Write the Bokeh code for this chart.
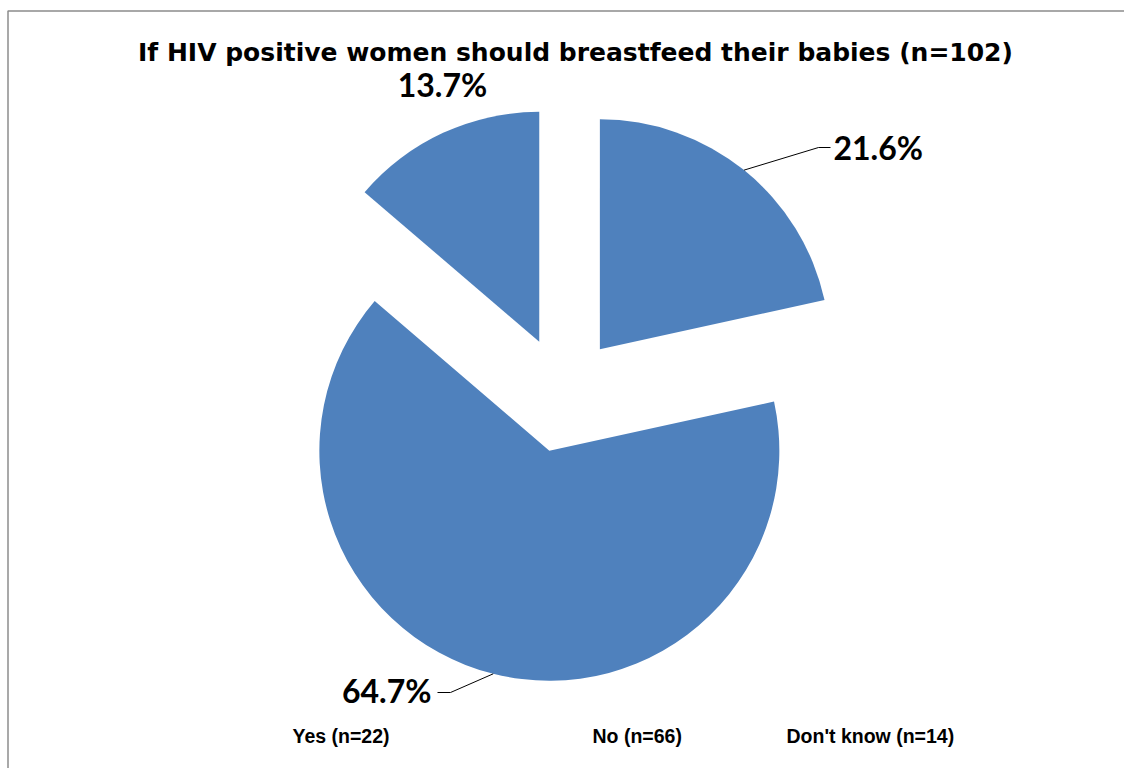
import math
from bokeh.plotting import figure
from bokeh.models import Range1d, ColumnDataSource
from bokeh.core.properties import value
from bokeh.embed import file_html
from bokeh.resources import INLINE

# ---- data ----
categories = ["Yes (n=22)", "No (n=66)", "Don't know (n=14)"]
counts = [22, 66, 14]
title_text = "If HIV positive women should breastfeed their babies (n=102)"

# ---- layout (reference pixel coords; y measured downward from top) ----
W, H = 1124, 768
def Y(img_y):
    return H - img_y

CX, CY = 563, 394          # pie centre
R = 230                    # radius in px
EXPLODE = 58               # explosion offset in px
PIE_COLOR = "#4F81BD"

total = sum(counts)
pcts = [c / total * 100 for c in counts]

p = figure(width=W, height=H, output_backend="svg", toolbar_location=None,
           x_range=Range1d(0, W), y_range=Range1d(0, H),
           min_border=0, background_fill_color="white", border_fill_color="white")
p.axis.visible = False
p.grid.visible = False
p.outline_line_color = None

# border (left/top visible in the reference)
p.line(x=[7.5, 7.5, W], y=[Y(H), Y(10.5), Y(10.5)], line_color="#8C8C8C", line_width=1.5)

# wedges: clockwise from 12 o'clock
xs, ys, starts, ends, mids = [], [], [], [], []
acc = 0.0
for c in counts:
    a1 = acc / total * 360.0
    acc += c
    a2 = acc / total * 360.0
    mid = math.radians((a1 + a2) / 2)
    xs.append(CX + EXPLODE * math.sin(mid))
    ys.append(Y(CY) + EXPLODE * math.cos(mid))
    starts.append(math.radians(90 - a2))
    ends.append(math.radians(90 - a1))
    mids.append(mid)

src = ColumnDataSource(dict(x=xs, y=ys, start=starts, end=ends, cat=categories))
p.wedge(x="x", y="y", radius=R, start_angle="start", end_angle="end",
        fill_color=PIE_COLOR, line_color=None, source=src)

# percentage labels
label_font = value("Lato")
labels = [f"{v:.1f}%" for v in pcts]
placement = [
    dict(x=833, y=147, align="left", elbow=(818, 147), end=(830, 147)),
    dict(x=431, y=690, align="right", elbow=(450, 692), end=(437, 692)),
    dict(x=442, y=84, align="center", elbow=None, end=None),
]
for i, lab in enumerate(labels):
    pl = placement[i]
    if pl["elbow"] is not None:
        ax = xs[i] + R * math.sin(mids[i])
        ay = ys[i] + R * math.cos(mids[i])
        p.line(x=[ax, pl["elbow"][0], pl["end"][0]],
               y=[ay, Y(pl["elbow"][1]), Y(pl["end"][1])],
               line_color="black", line_width=1)
    p.text(x=[pl["x"]], y=[Y(pl["y"])], text=[lab], text_font=label_font,
           text_font_style="bold", text_font_size="32px", text_color="black",
           text_align=pl["align"], text_baseline="middle")

# title
p.text(x=[575], y=[Y(52)], text=[title_text], text_font=value("DejaVu Sans"),
       text_font_style="bold", text_font_size="25px", text_color="black",
       text_align="center", text_baseline="middle")

# legend (text only)
leg_x = [292, 592, 786]
p.text(x=leg_x, y=[Y(735)] * 3, text=categories, text_font=value("Liberation Sans"),
       text_font_style="bold", text_font_size="19.5px", text_color="black",
       text_align="left", text_baseline="middle")

open("out.html", "w").write(file_html(p, INLINE))
